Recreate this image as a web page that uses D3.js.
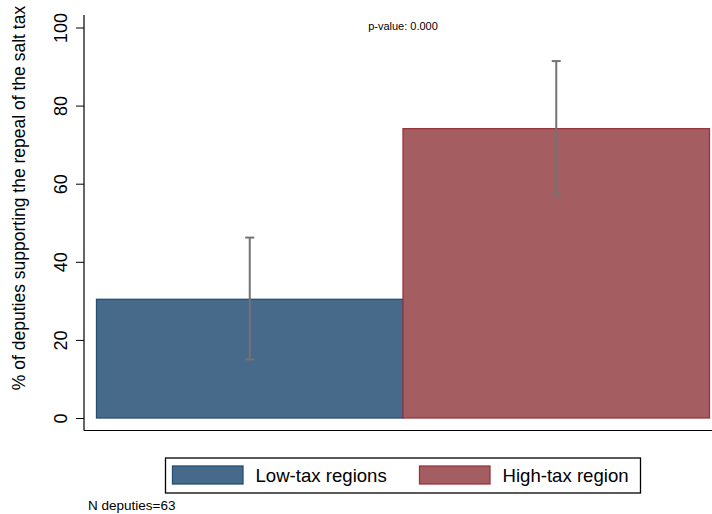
<!DOCTYPE html>
<html><head><meta charset="utf-8">
<script src="https://cdn.jsdelivr.net/npm/d3@7"></script>
<style>
body{margin:0;background:#fff;}
svg{display:block;font-family:"Liberation Sans",Arial,sans-serif;}
</style></head>
<body><svg id="c" width="712" height="514"></svg>
<script>
const categories = ["Low-tax regions", "High-tax region"];
const values = [30.4, 74.1];
const ciLow = [15.0, 57.0];
const ciHigh = [46.2, 91.4];
const yTicks = [0, 20, 40, 60, 80, 100];
const fills = ["#476a8a", "#a45d61"];
const strokes = ["#244f75", "#98363d"];

const svg = d3.select("#c");
const y = d3.scaleLinear().domain([0, 100]).range([418, 27.5]);
const x = d3.scaleBand().domain(categories).range([96.5, 709.5]).padding(0);

// bars
svg.selectAll("rect.bar").data(categories).enter().append("rect")
  .attr("x", d => x(d)).attr("width", x.bandwidth())
  .attr("y", (d, i) => y(values[i])).attr("height", (d, i) => y(0) - y(values[i]))
  .attr("fill", (d, i) => fills[i]).attr("stroke", (d, i) => strokes[i]).attr("stroke-width", 1.3);

// error bars
const eb = svg.selectAll("g.eb").data(categories).enter().append("g")
  .attr("stroke", "#737373").attr("stroke-width", 2);
eb.append("line").attr("x1", d => x(d) + x.bandwidth() / 2).attr("x2", d => x(d) + x.bandwidth() / 2)
  .attr("y1", (d, i) => y(ciLow[i])).attr("y2", (d, i) => y(ciHigh[i]));
eb.append("line").attr("x1", d => x(d) + x.bandwidth() / 2 - 4.5).attr("x2", d => x(d) + x.bandwidth() / 2 + 4.5)
  .attr("y1", (d, i) => y(ciLow[i])).attr("y2", (d, i) => y(ciLow[i]));
eb.append("line").attr("x1", d => x(d) + x.bandwidth() / 2 - 4.5).attr("x2", d => x(d) + x.bandwidth() / 2 + 4.5)
  .attr("y1", (d, i) => y(ciHigh[i])).attr("y2", (d, i) => y(ciHigh[i]));

// y axis
const ax = svg.append("g").attr("transform", "translate(84,0)")
  .call(d3.axisLeft(y).tickValues(yTicks).tickSize(8).tickSizeOuter(0));
ax.select(".domain").remove();
ax.selectAll(".tick line").attr("stroke", "#000").attr("stroke-width", 1);
ax.selectAll(".tick text").attr("font-size", 18).attr("fill", "#000")
  .attr("text-anchor", "middle").attr("transform", "rotate(-90)")
  .attr("x", 0).attr("dy", 0).attr("y", -17);
// axis lines
svg.append("line").attr("x1", 84).attr("x2", 84).attr("y1", 15).attr("y2", 430.5).attr("stroke", "#000").attr("stroke-width", 1.2);
svg.append("line").attr("x1", 84).attr("x2", 712).attr("y1", 430.5).attr("y2", 430.5).attr("stroke", "#000").attr("stroke-width", 1.2);

// y title
svg.append("text").attr("transform", "translate(25,198) rotate(-90)")
  .attr("text-anchor", "middle").attr("font-size", 17.5).attr("fill", "#000")
  .text("% of deputies supporting the repeal of the salt tax");

// p-value
svg.append("text").attr("x", 403).attr("y", 29.5).attr("text-anchor", "middle")
  .attr("font-size", 11).attr("fill", "#000").text("p-value: 0.000");

// legend
const lg = svg.append("g");
lg.append("rect").attr("x", 165.5).attr("y", 458).attr("width", 475).attr("height", 35)
  .attr("fill", "#fff").attr("stroke", "#000").attr("stroke-width", 1.3);
const legX = [172.5, 419.5];
categories.forEach((c, i) => {
  lg.append("rect").attr("x", legX[i]).attr("y", 466).attr("width", 70.5).attr("height", 18)
    .attr("fill", fills[i]).attr("stroke", strokes[i]).attr("stroke-width", 1.3);
  lg.append("text").attr("x", legX[i] + 83).attr("y", 482).attr("font-size", 18.6).attr("fill", "#000").text(c);
});

svg.append("text").attr("x", 88).attr("y", 510).attr("font-size", 13.5).attr("fill", "#000").text("N deputies=63");
</script></body></html>
